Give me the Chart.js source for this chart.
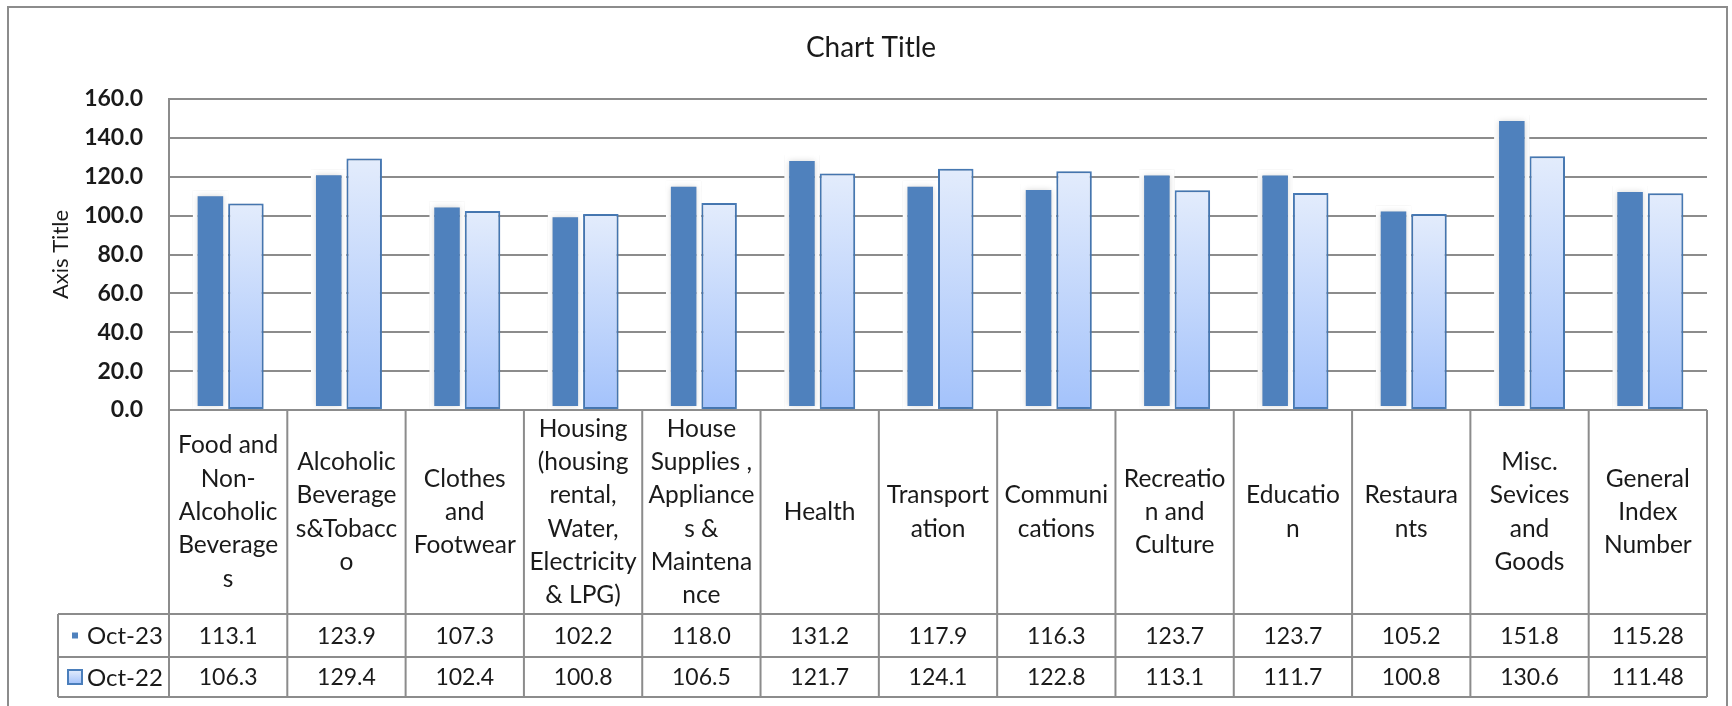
<!DOCTYPE html>
<html>
<head>
<meta charset="utf-8">
<title>Chart Title</title>
<script src="https://cdn.jsdelivr.net/npm/chart.js@4.4.1/dist/chart.umd.min.js"></script>
<style>
  html, body { margin: 0; padding: 0; background: #fff; }
  #wrap { width: 1732px; height: 706px; position: relative; }
</style>
</head>
<body>
<div id="wrap"><canvas id="cpi"></canvas></div>
<script>
// category names, wrapped the same way as in the data table
const categories = [
  ['Food and', 'Non-', 'Alcoholic', 'Beverage', 's'],
  ['Alcoholic', 'Beverage', 's&Tobacc', 'o'],
  ['Clothes', 'and', 'Footwear'],
  ['Housing', '(housing', 'rental,', 'Water,', 'Electricity', '& LPG)'],
  ['House', 'Supplies ,', 'Appliance', 's &', 'Maintena', 'nce'],
  ['Health'],
  ['Transport', 'ation'],
  ['Communi', 'cations'],
  ['Recreatio', 'n and', 'Culture'],
  ['Educatio', 'n'],
  ['Restaura', 'nts'],
  ['Misc.', 'Sevices', 'and', 'Goods'],
  ['General', 'Index', 'Number']
];
const seriesNames = ['Oct-23', 'Oct-22'];
const oct23 = [113.1, 123.9, 107.3, 102.2, 118.0, 131.2, 117.9, 116.3, 123.7, 123.7, 105.2, 151.8, 115.28];
const oct22 = [106.3, 129.4, 102.4, 100.8, 106.5, 121.7, 124.1, 122.8, 113.1, 111.7, 100.8, 130.6, 111.48];
const yTicks = [0, 20, 40, 60, 80, 100, 120, 140, 160];

const FONT = 'Lato, "Open Sans", sans-serif';
const TXT = '#1a1a1a';
const LINE = '#8c8c8c';
const DARK = '#4F81BD';

function fmt(v) {
  const tenth = v * 10;
  return Math.abs(tenth - Math.round(tenth)) < 1e-6 ? v.toFixed(1) : v.toFixed(2);
}

function lightFill(c) {
  const chart = c.chart;
  const ys = chart.scales.y;
  if (c.type !== 'data' || !ys) return '#C6D9F8';
  const top = ys.getPixelForValue(c.raw);
  const bot = ys.getPixelForValue(0);
  if (!isFinite(top) || !isFinite(bot) || top === bot) return '#C6D9F8';
  const g = chart.ctx.createLinearGradient(0, top, 0, bot);
  g.addColorStop(0, '#E3ECFC');
  g.addColorStop(1, '#A3C2FB');
  return g;
}

// frame + title
const framePlugin = {
  id: 'frame',
  beforeDraw(chart) {
    const ctx = chart.ctx;
    ctx.save();
    ctx.fillStyle = '#fff';
    ctx.fillRect(0, 0, chart.width, chart.height);
    ctx.strokeStyle = LINE;
    ctx.lineWidth = 2;
    ctx.strokeRect(8, 7, 1719, 720);
    ctx.fillStyle = TXT;
    ctx.font = '28px ' + FONT;
    ctx.textAlign = 'center';
    ctx.textBaseline = 'middle';
    ctx.fillText('Chart Title', 871, 48);
    ctx.restore();
  }
};

// soft glow behind the bars
const shadowPlugin = {
  id: 'barShadow',
  beforeDatasetsDraw(chart) {
    const ctx = chart.ctx;
    ctx.save();
    ctx.shadowColor = 'rgba(0,0,0,0.16)';
    ctx.shadowBlur = 6;
  },
  afterDatasetsDraw(chart) {
    chart.ctx.restore();
  }
};

// data table under the plot
const tablePlugin = {
  id: 'dataTable',
  afterDraw(chart) {
    const { ctx, chartArea: a, scales: { x } } = chart;
    const colW = x.getPixelForValue(1) - x.getPixelForValue(0);
    const left0 = x.getPixelForValue(0) - colW / 2;
    const top = a.bottom;
    const headBot = top + 204;
    const r1 = headBot + 43;
    const r2 = r1 + 40;
    const legL = 58;

    ctx.save();
    ctx.strokeStyle = LINE;
    ctx.lineWidth = 2;
    ctx.beginPath();
    [headBot, r1, r2].forEach(yy => { ctx.moveTo(legL, yy); ctx.lineTo(a.right, yy); });
    for (let i = 0; i <= categories.length; i++) {
      const xx = left0 + i * colW;
      ctx.moveTo(xx, top);
      ctx.lineTo(xx, r2);
    }
    ctx.moveTo(legL, headBot);
    ctx.lineTo(legL, r2);
    ctx.stroke();

    ctx.fillStyle = TXT;
    ctx.textAlign = 'center';
    ctx.textBaseline = 'middle';
    const lh = 33.3;
    const headMid = (top + headBot) / 2;
    categories.forEach((lines, i) => {
      const cx = x.getPixelForValue(i);
      const y0 = headMid - (lines.length - 1) * lh / 2;
      ctx.font = '24.5px ' + FONT;
      lines.forEach((t, k) => ctx.fillText(t, cx, y0 + k * lh));
      ctx.font = '23px ' + FONT;
      ctx.fillText(fmt(oct23[i]), cx, (headBot + r1) / 2 + 1);
      ctx.fillText(fmt(oct22[i]), cx, (r1 + r2) / 2 + 1);
    });

    // legend keys
    const m1 = (headBot + r1) / 2, m2 = (r1 + r2) / 2;
    ctx.fillStyle = DARK;
    ctx.fillRect(72, m1 - 3, 6, 6);
    const g = ctx.createLinearGradient(0, m2 - 7, 0, m2 + 7);
    g.addColorStop(0, '#E3ECFC');
    g.addColorStop(1, '#A3C2FB');
    ctx.fillStyle = g;
    ctx.fillRect(68, m2 - 7, 14, 14);
    ctx.strokeStyle = '#4A7EBB';
    ctx.lineWidth = 2;
    ctx.strokeRect(68, m2 - 7, 14, 14);

    ctx.fillStyle = TXT;
    ctx.textAlign = 'left';
    ctx.font = '24px ' + FONT;
    ctx.fillText(seriesNames[0], 87, m1 + 1);
    ctx.fillText(seriesNames[1], 87, m2 + 1);
    ctx.restore();
  }
};

new Chart(document.getElementById('cpi'), {
  type: 'bar',
  data: {
    labels: categories,
    datasets: [
      {
        label: seriesNames[0],
        data: oct23,
        backgroundColor: DARK,
        borderColor: '#ffffff',
        borderWidth: { top: 6, left: 5, right: 5, bottom: 3 },
        borderSkipped: false
      },
      {
        label: seriesNames[1],
        data: oct22,
        backgroundColor: lightFill,
        borderColor: '#4A7EBB',
        borderWidth: 2,
        borderSkipped: false
      }
    ]
  },
  options: {
    responsive: true,
    maintainAspectRatio: false,
    animation: false,
    layout: { padding: { left: 10, right: 25, top: 99, bottom: 296 } },
    datasets: { bar: { categoryPercentage: 0.6, barPercentage: 1.0 } },
    plugins: {
      legend: { display: false },
      title: { display: false },
      tooltip: { enabled: false }
    },
    scales: {
      x: { display: false },
      y: {
        min: 0,
        max: 160,
        afterBuildTicks: s => { s.ticks = yTicks.map(v => ({ value: v })); },
        afterFit: s => { s.width = 159; },
        ticks: {
          padding: 26,
          color: TXT,
          font: { family: FONT, size: 23, weight: 'bold' },
          callback: v => v.toFixed(1)
        },
        grid: { color: LINE, lineWidth: 2, drawTicks: false },
        border: { color: LINE, width: 2 },
        title: {
          display: true,
          text: 'Axis Title',
          color: TXT,
          font: { family: FONT, size: 22 },
          padding: { top: 38, bottom: 0 }
        }
      }
    }
  },
  plugins: [framePlugin, shadowPlugin, tablePlugin]
});
</script>
</body>
</html>
